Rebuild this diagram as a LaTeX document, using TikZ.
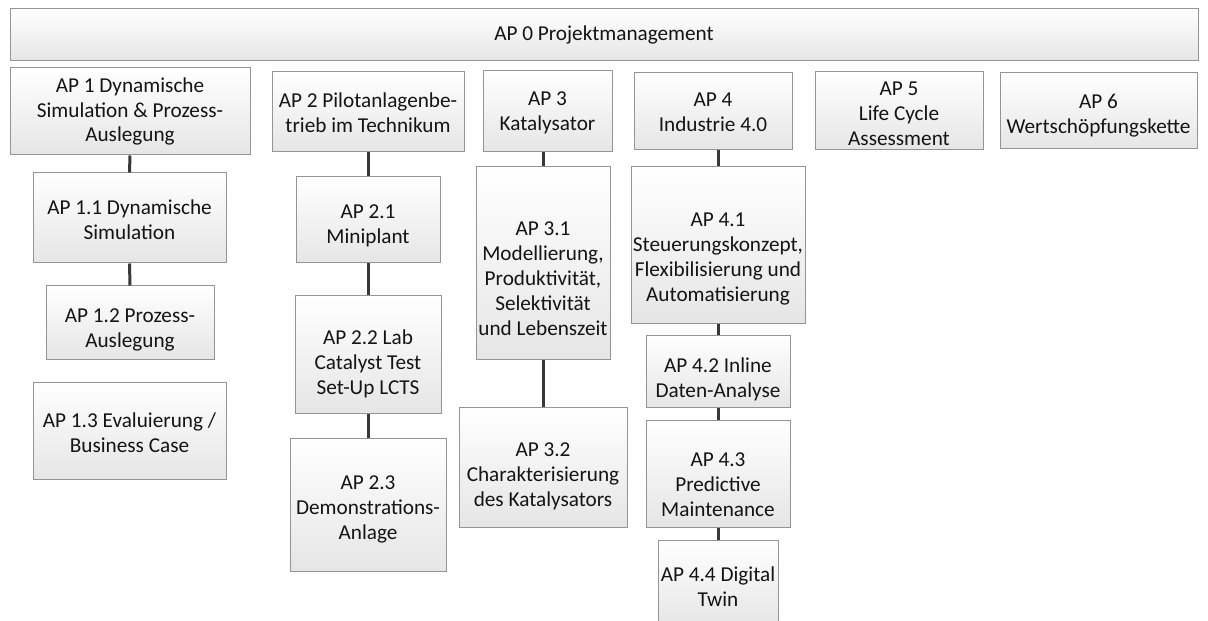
\documentclass[tikz,border=0pt]{standalone}
\usepackage{fontspec}
\setmainfont{Carlito}
\begin{document}
\begin{tikzpicture}[x=1bp,y=-1bp,
  wbox/.style={draw=black!42, line width=1bp, top color=white, bottom color=black!10,
    inner sep=0pt},
  wtext/.style={inner sep=0pt, align=center, font=\fontsize{21.3}{25}\selectfont, text=black!92},
  conn/.style={draw=black!78, line width=3bp}]
\useasboundingbox (0,0) rectangle (1208,621);
\newcommand{\wpbox}[7]{%
  \node[wbox, minimum width={(#4-#2)*1bp}, minimum height={(#5-#3)*1bp}] (#1) at ({(#2+#4)/2},{(#3+#5)/2}) {};
  \node[wtext] (#1t) at ([yshift=-#6bp]#1.center) {#7};}
\wpbox{ap0}{10}{9}{1198}{61}{0}{AP 0 Projektmanagement}
\wpbox{ap1}{10}{68}{250}{155}{0}{AP 1 Dynamische\\Simulation \& Prozess-\\Auslegung}
\wpbox{ap2}{272}{72}{464}{152}{1}{AP 2 Pilotanlagenbe-\\trieb im Technikum}
\wpbox{ap3}{483}{71}{612}{152}{1}{AP 3\\Katalysator}
\wpbox{ap4}{634}{73}{792}{150}{1}{AP 4\\Industrie 4.0}
\wpbox{ap5}{815}{72}{983}{150}{3}{AP 5\\Life Cycle\\Assessment}
\wpbox{ap6}{1000}{73}{1197}{149}{5}{AP 6\\Wertschöpfungskette}
\wpbox{ap11}{33}{173}{226}{263}{2}{AP 1.1 Dynamische\\Simulation}
\wpbox{ap12}{46}{286}{214}{359}{7}{AP 1.2 Prozess-\\Auslegung}
\wpbox{ap13}{33}{382}{226}{479}{2}{AP 1.3 Evaluierung /\\Business Case}
\wpbox{ap21}{296}{177}{440}{263}{6}{AP 2.1\\Miniplant}
\wpbox{ap22}{295}{296}{441}{413}{9}{AP 2.2 Lab\\Catalyst Test\\Set-Up LCTS}
\wpbox{ap23}{290}{438}{446}{571}{5}{AP 2.3\\Demonstrations-\\Anlage}
\wpbox{ap31}{476}{167}{610}{359}{16}{AP 3.1\\Modellierung,\\Produktivität,\\Selektivität\\und Lebenszeit}
\wpbox{ap32}{459}{407}{627}{527}{9}{AP 3.2\\Charakterisierung\\des Katalysators}
\wpbox{ap41}{631}{167}{805}{323}{14}{AP 4.1\\Steuerungskonzept,\\Flexibilisierung und\\Automatisierung}
\wpbox{ap42}{646}{335}{790}{407}{8}{AP 4.2 Inline\\Daten-Analyse}
\wpbox{ap43}{646}{420}{790}{527}{11}{AP 4.3\\Predictive\\Maintenance}
\wpbox{ap44}{658}{540}{778}{626}{4}{AP 4.4 Digital\\Twin}
\draw[conn] (ap1.south) -- (ap11.north);
\draw[conn] (ap11.south) -- (ap12.north);
\draw[conn] (ap2.south) -- (ap21.north);
\draw[conn] (ap21.south) -- (ap22.north);
\draw[conn] (ap22.south) -- (ap23.north);
\draw[conn] (ap31.north |- ap3.south) -- (ap31.north);
\draw[conn] (ap31.south) -- (ap32.north);
\draw[conn] (ap41.north |- ap4.south) -- (ap41.north);
\draw[conn] (ap41.south) -- (ap42.north);
\draw[conn] (ap42.south) -- (ap43.north);
\draw[conn] (ap43.south) -- (ap44.north);
\end{tikzpicture}
\end{document}
